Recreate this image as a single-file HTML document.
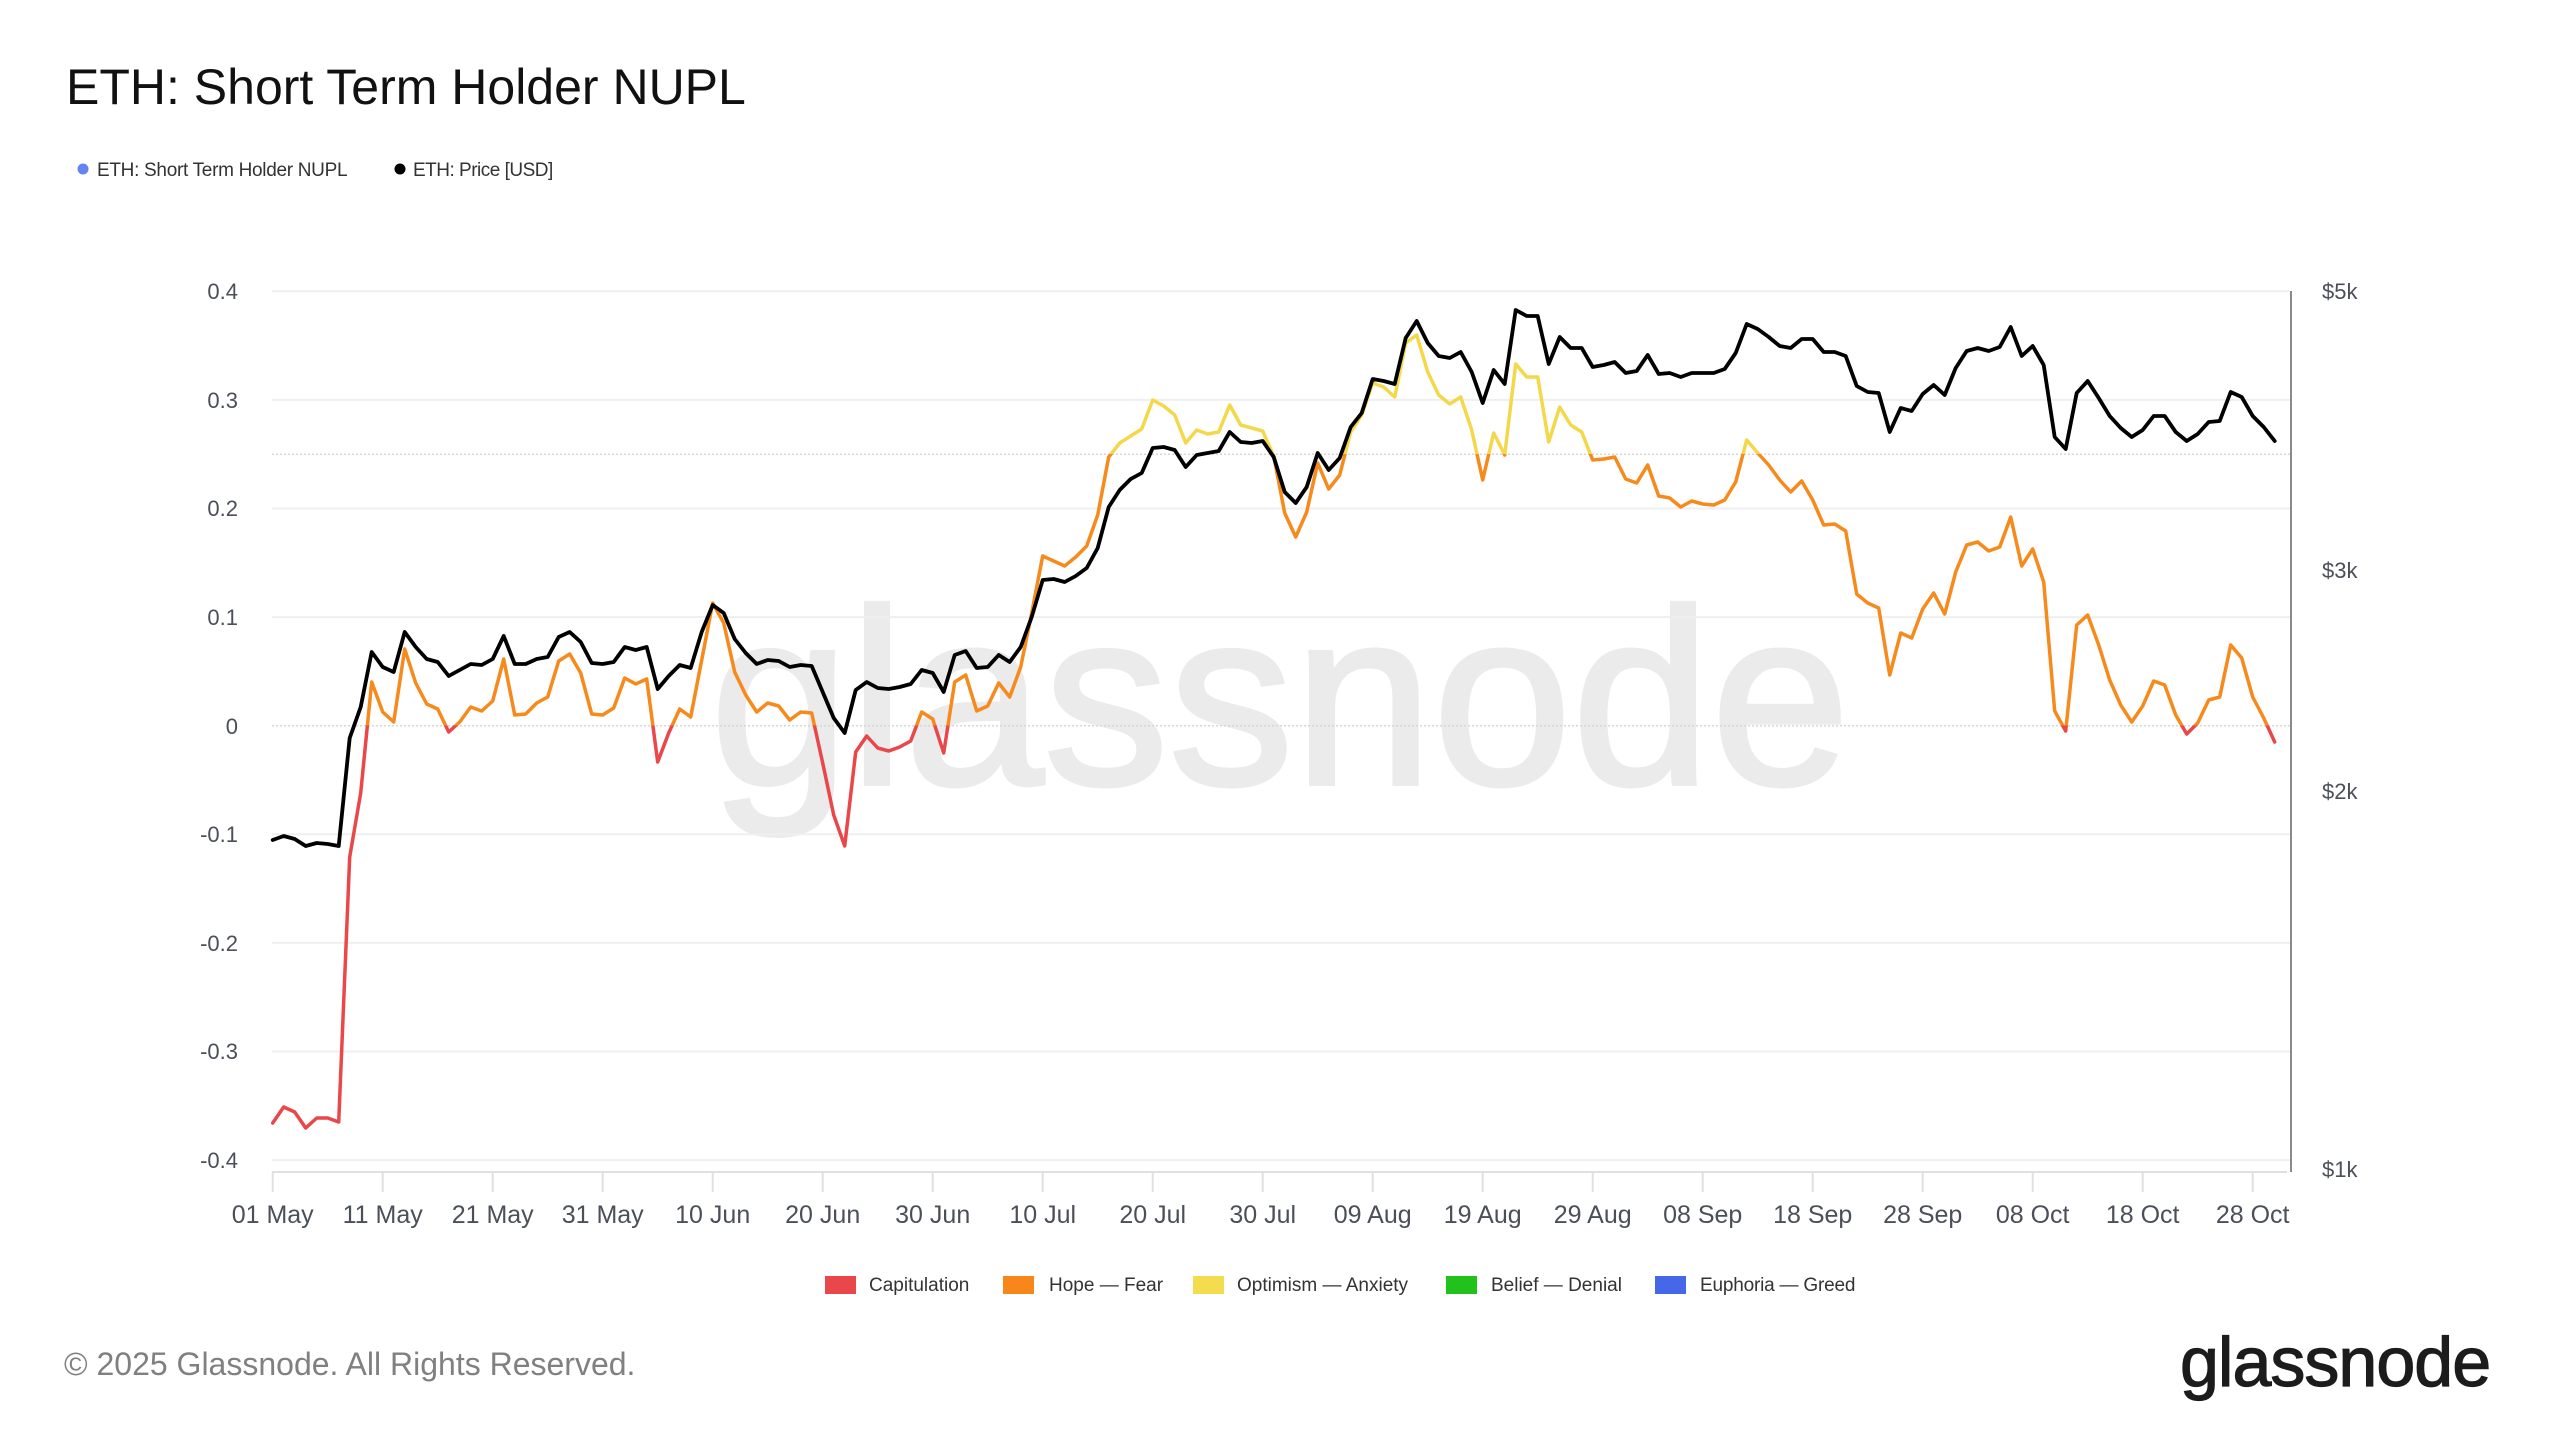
<!DOCTYPE html>
<html>
<head>
<meta charset="utf-8">
<style>
  html,body{margin:0;padding:0;background:#ffffff;}
  svg{display:block;}
  text{font-family:"Liberation Sans",Arial,sans-serif;}
</style>
</head>
<body>
<svg width="2560" height="1440" viewBox="0 0 2560 1440" xmlns="http://www.w3.org/2000/svg">
  <defs>
    <linearGradient id="nupl" gradientUnits="userSpaceOnUse" x1="0" y1="0" x2="0" y2="1440">
      <stop offset="0" stop-color="#f4d84c"/>
      <stop offset="0.3154" stop-color="#f4d84c"/>
      <stop offset="0.3154" stop-color="#f68a1c"/>
      <stop offset="0.50396" stop-color="#f68a1c"/>
      <stop offset="0.50396" stop-color="#e9474a"/>
      <stop offset="1" stop-color="#e9474a"/>
    </linearGradient>
  </defs>
  <rect width="2560" height="1440" fill="#ffffff"/>

  <!-- Title -->
  <text x="66" y="104" font-size="50" fill="#111111">ETH: Short Term Holder NUPL</text>

  <!-- Top legend -->
  <circle cx="83" cy="169" r="5.5" fill="#6683ee"/>
  <text x="97" y="176" font-size="19" letter-spacing="-0.3" fill="#333333">ETH: Short Term Holder NUPL</text>
  <circle cx="400" cy="169" r="5.5" fill="#000000"/>
  <text x="413" y="176" font-size="19" letter-spacing="-0.5" fill="#333333">ETH: Price [USD]</text>

  <!-- Watermark -->
  <text x="1280" y="784" font-size="250" text-anchor="middle" fill="#ebebeb" stroke="#ebebeb" stroke-width="4">glassnode</text>

  <!-- Gridlines -->
  <g stroke="#efefef" stroke-width="2">
    <line x1="272" y1="291.3" x2="2290" y2="291.3"/>
    <line x1="272" y1="399.9" x2="2290" y2="399.9"/>
    <line x1="272" y1="508.5" x2="2290" y2="508.5"/>
    <line x1="272" y1="617.1" x2="2290" y2="617.1"/>
    <line x1="272" y1="834.3" x2="2290" y2="834.3"/>
    <line x1="272" y1="942.9" x2="2290" y2="942.9"/>
    <line x1="272" y1="1051.5" x2="2290" y2="1051.5"/>
    <line x1="272" y1="1160.1" x2="2290" y2="1160.1"/>
  </g>
  <g stroke="#d6d6d6" stroke-width="1.5" stroke-dasharray="2,2">
    <line x1="272" y1="454.2" x2="2290" y2="454.2"/>
    <line x1="272" y1="725.7" x2="2290" y2="725.7"/>
  </g>

  <!-- X axis line and ticks -->
  <line x1="272" y1="1172" x2="2287" y2="1172" stroke="#e0e0e0" stroke-width="2"/>
  <g stroke="#e0e0e0" stroke-width="2">
    <line x1="272.7" y1="1172" x2="272.7" y2="1192"/>
    <line x1="382.7" y1="1172" x2="382.7" y2="1192"/>
    <line x1="492.7" y1="1172" x2="492.7" y2="1192"/>
    <line x1="602.7" y1="1172" x2="602.7" y2="1192"/>
    <line x1="712.7" y1="1172" x2="712.7" y2="1192"/>
    <line x1="822.7" y1="1172" x2="822.7" y2="1192"/>
    <line x1="932.7" y1="1172" x2="932.7" y2="1192"/>
    <line x1="1042.7" y1="1172" x2="1042.7" y2="1192"/>
    <line x1="1152.7" y1="1172" x2="1152.7" y2="1192"/>
    <line x1="1262.7" y1="1172" x2="1262.7" y2="1192"/>
    <line x1="1372.7" y1="1172" x2="1372.7" y2="1192"/>
    <line x1="1482.7" y1="1172" x2="1482.7" y2="1192"/>
    <line x1="1592.7" y1="1172" x2="1592.7" y2="1192"/>
    <line x1="1702.7" y1="1172" x2="1702.7" y2="1192"/>
    <line x1="1812.7" y1="1172" x2="1812.7" y2="1192"/>
    <line x1="1922.7" y1="1172" x2="1922.7" y2="1192"/>
    <line x1="2032.7" y1="1172" x2="2032.7" y2="1192"/>
    <line x1="2142.7" y1="1172" x2="2142.7" y2="1192"/>
    <line x1="2252.7" y1="1172" x2="2252.7" y2="1192"/>
  </g>

  <!-- X tick labels -->
  <g font-size="25" fill="#4b4f58" text-anchor="middle">
    <text x="272.7" y="1223">01 May</text>
    <text x="382.7" y="1223">11 May</text>
    <text x="492.7" y="1223">21 May</text>
    <text x="602.7" y="1223">31 May</text>
    <text x="712.7" y="1223">10 Jun</text>
    <text x="822.7" y="1223">20 Jun</text>
    <text x="932.7" y="1223">30 Jun</text>
    <text x="1042.7" y="1223">10 Jul</text>
    <text x="1152.7" y="1223">20 Jul</text>
    <text x="1262.7" y="1223">30 Jul</text>
    <text x="1372.7" y="1223">09 Aug</text>
    <text x="1482.7" y="1223">19 Aug</text>
    <text x="1592.7" y="1223">29 Aug</text>
    <text x="1702.7" y="1223">08 Sep</text>
    <text x="1812.7" y="1223">18 Sep</text>
    <text x="1922.7" y="1223">28 Sep</text>
    <text x="2032.7" y="1223">08 Oct</text>
    <text x="2142.7" y="1223">18 Oct</text>
    <text x="2252.7" y="1223">28 Oct</text>
  </g>

  <!-- Left Y labels -->
  <g font-size="22" fill="#4b4f58" text-anchor="end">
    <text x="238" y="299">0.4</text>
    <text x="238" y="408">0.3</text>
    <text x="238" y="516">0.2</text>
    <text x="238" y="625">0.1</text>
    <text x="238" y="734">0</text>
    <text x="238" y="842">-0.1</text>
    <text x="238" y="951">-0.2</text>
    <text x="238" y="1059">-0.3</text>
    <text x="238" y="1168">-0.4</text>
  </g>

  <!-- Right axis -->
  <line x1="2291" y1="291" x2="2291" y2="1172" stroke="#8a8a8a" stroke-width="2"/>
  <g font-size="22" fill="#4b4f58">
    <text x="2322" y="299">$5k</text>
    <text x="2322" y="578">$3k</text>
    <text x="2322" y="799">$2k</text>
    <text x="2322" y="1177">$1k</text>
  </g>

  <!-- Series -->
  <g transform="translate(272.7,0)" fill="none" stroke-linejoin="round" stroke-linecap="round">
    <polyline stroke="url(#nupl)" stroke-width="3.5" points="
0,1123 11,1107 22,1112 33,1128 44,1118 55,1118 66,1122 77,857 88,793 99,682
110,712 121,722 132,649 143,683 154,704 165,709 176,732 187,722 198,707 209,711
220,701 231,659 242,715 253,714 264,703 275,697 286,661 297,654 308,673 319,714
330,715 341,708 352,678 363,684 374,679 385,762 396,733 407,709 418,717 429,660
440,603 451,623 462,672 473,695 484,712 495,703 506,706 517,720 528,712 539,713
550,763 561,815 572,846 583,752 594,736 605,748 616,751 627,747 638,741 649,712
660,719 671,753 682,682 693,675 704,711 715,706 726,683 737,697 748,667 759,613
770,556 781,561 792,566 803,557 814,546 825,515 836,457 847,443 858,436 869,429
880,400 891,406 902,415 913,443 924,430 935,434 946,432 957,405 968,425 979,428
990,431 1001,456 1012,513 1023,537 1034,512 1045,463 1056,489 1067,475 1078,432 1089,415
1100,383 1111,387 1122,397 1133,343 1144,335 1155,372 1166,395 1177,404 1188,397 1199,430
1210,480 1221,433 1232,455 1243,364 1254,377 1265,377 1276,442 1287,407 1298,425 1309,432
1320,460 1331,459 1342,457 1353,479 1364,483 1375,465 1386,496 1397,498 1408,507 1419,501
1430,504 1441,505 1452,500 1463,482 1474,440 1485,453 1496,465 1507,480 1518,492 1529,481
1540,500 1551,525 1562,524 1573,531 1584,594 1595,603 1606,608 1617,675 1628,633 1639,638
1650,609 1661,593 1672,614 1683,572 1694,545 1705,542 1716,551 1727,547 1738,517 1749,566
1760,549 1771,582 1782,711 1793,731 1804,625 1815,615 1826,645 1837,680 1848,705 1859,722
1870,706 1881,681 1892,685 1903,715 1914,734 1925,723 1936,700 1947,697 1958,645 1969,658
1980,697 1991,718 2002,742"/>
    <polyline stroke="#000000" stroke-width="3.8" points="
0,840 11,836 22,839 33,846 44,843 55,844 66,846 77,738 88,707 99,652
110,667 121,672 132,632 143,647 154,659 165,662 176,676 187,670 198,664 209,665
220,659 231,636 242,664 253,664 264,659 275,657 286,637 297,632 308,642 319,663
330,664 341,662 352,647 363,650 374,647 385,689 396,676 407,665 418,668 429,632
440,605 451,613 462,639 473,653 484,664 495,660 506,661 517,667 528,665 539,666
550,692 561,718 572,733 583,690 594,682 605,688 616,689 627,687 638,684 649,670
660,673 671,692 682,655 693,651 704,668 715,667 726,655 737,662 748,647 759,617
770,580 781,579 792,582 803,576 814,568 825,548 836,507 847,490 858,479 869,473
880,448 891,447 902,450 913,467 924,455 935,453 946,451 957,432 968,442 979,443
990,441 1001,457 1012,492 1023,503 1034,487 1045,453 1056,470 1067,458 1078,427 1089,413
1100,379 1111,381 1122,384 1133,338 1144,321 1155,343 1166,356 1177,358 1188,352 1199,372
1210,403 1221,370 1232,384 1243,310 1254,316 1265,316 1276,364 1287,337 1298,348 1309,348
1320,367 1331,365 1342,362 1353,373 1364,371 1375,355 1386,374 1397,373 1408,377 1419,373
1430,373 1441,373 1452,369 1463,353 1474,324 1485,329 1496,337 1507,346 1518,348 1529,339
1540,339 1551,352 1562,352 1573,356 1584,386 1595,392 1606,393 1617,432 1628,408 1639,411
1650,394 1661,385 1672,395 1683,368 1694,351 1705,348 1716,351 1727,347 1738,327 1749,356
1760,346 1771,365 1782,437 1793,449 1804,393 1815,381 1826,398 1837,416 1848,428 1859,437
1870,430 1881,416 1892,416 1903,432 1914,441 1925,434 1936,422 1947,421 1958,392 1969,397
1980,416 1991,427 2002,441"/>
  </g>

  <!-- Bottom legend -->
  <g font-size="19" fill="#333333">
    <rect x="825" y="1276" width="31" height="18" fill="#e9474a"/>
    <text x="869" y="1291">Capitulation</text>
    <rect x="1003" y="1276" width="31" height="18" fill="#f7861b"/>
    <text x="1049" y="1291">Hope — Fear</text>
    <rect x="1193" y="1276" width="31" height="18" fill="#f5db4e"/>
    <text x="1237" y="1291">Optimism — Anxiety</text>
    <rect x="1446" y="1276" width="31" height="18" fill="#22c21d"/>
    <text x="1491" y="1291">Belief — Denial</text>
    <rect x="1655" y="1276" width="31" height="18" fill="#4567e8"/>
    <text x="1700" y="1291" letter-spacing="-0.2">Euphoria — Greed</text>
  </g>

  <!-- Footer -->
  <text x="64" y="1375" font-size="32" fill="#808080">© 2025 Glassnode. All Rights Reserved.</text>
  <text x="2180" y="1386" font-size="70" letter-spacing="-1" fill="#1c1c1c" stroke="#1c1c1c" stroke-width="1.2">glassnode</text>
</svg>
</body>
</html>
